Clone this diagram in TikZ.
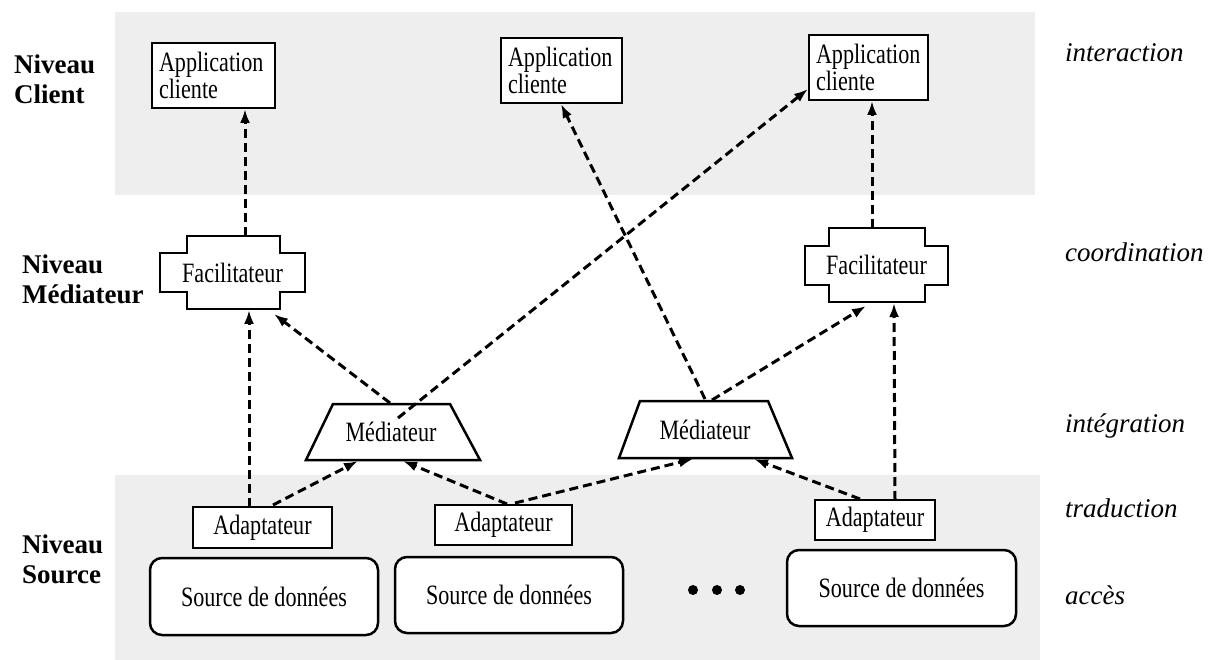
\documentclass[tikz,border=0pt]{standalone}
\usepackage{fontspec}
\setmainfont{Liberation Serif}
\newfontfamily\boxfont[FakeStretch=0.79]{Liberation Serif}
\usetikzlibrary{arrows.meta,calc}
\begin{document}
\begin{tikzpicture}[x=1pt,y=-1pt,
  band/.style={fill=gray!13, draw=none},
  frame/.style={draw=black, line width=2.5, fill=white},
  boxtext/.style={font=\boxfont\fontsize{28}{27}\selectfont},
  appbox/.style={frame, boxtext, rectangle, inner xsep=7, inner ysep=0, align=left},
  adbox/.style={frame, boxtext, rectangle, inner sep=0},
  srcbox/.style={frame, boxtext, rectangle, rounded corners=12, inner sep=0},
  label/.style={boxtext, inner sep=0},
  lvl/.style={anchor=north west, inner sep=0, align=left, font=\bfseries\fontsize{27}{30}\selectfont},
  task/.style={anchor=base west, inner sep=0, font=\itshape\fontsize{27}{30}\selectfont},
  flow/.style={line width=3, dash pattern=on 9 off 5, -{Latex[length=14,width=10]}}
]
\useasboundingbox (0,0) rectangle (1216,660);
\fill[white] (0,0) rectangle (1216,660);

% shaded bands for the client and source levels
\fill[band] (115,12) rectangle (1035,195);
\fill[band] (115,475) rectangle (1040,660);

% level names on the left
\node[lvl] (lvClient) at (14,55) {Niveau\\Client};
\node[lvl] (lvMed) at (22,255) {Niveau\\Médiateur};
\node[lvl] (lvSrc) at (22,535) {Niveau\\Source};

% functions on the right
\node[task] (tInter) at (1065,62) {interaction};
\node[task] (tCoord) at (1065,262) {coordination};
\node[task] (tInteg) at (1065,432) {intégration};
\node[task] (tTrad) at (1065,517) {traduction};
\node[task] (tAcc) at (1065,604) {accès};

% client applications
\node[appbox, text width=109, minimum height=65] (app1) at (213.5,75.5) {Application\\cliente};
\node[appbox, text width=107, minimum height=65] (app2) at (561.5,70.5) {Application\\cliente};
\node[appbox, text width=105, minimum height=65] (app3) at (868.5,67.5) {Application\\cliente};

% facilitators
\draw[frame] (160,253) -- (187,253) -- (187,236) -- (280,236) -- (280,253) -- (305,253)
  -- (305,292) -- (280,292) -- (280,309) -- (187,309) -- (187,292) -- (160,292) -- cycle;
\node[label] (fac1) at (232.5,272.5) {Facilitateur};
\draw[frame] (805,246) -- (829,246) -- (829,228) -- (925,228) -- (925,246) -- (948,246)
  -- (948,285) -- (925,285) -- (925,302) -- (829,302) -- (829,285) -- (805,285) -- cycle;
\node[label] (fac2) at (876.5,265) {Facilitateur};

% mediators
\draw[frame] (333,404) -- (450,404) -- (480,460) -- (306,460) -- cycle;
\node[label] (med1) at (391,432) {Médiateur};
\draw[frame] (640,401) -- (768,401) -- (792,458) -- (619,458) -- cycle;
\node[label] (med2) at (705,430) {Médiateur};

% adapters
\node[adbox, minimum width=139, minimum height=41] (ad1) at (262.5,527.5) {Adaptateur};
\node[adbox, minimum width=137, minimum height=40] (ad2) at (503.5,525) {Adaptateur};
\node[adbox, minimum width=120, minimum height=40] (ad3) at (875,520) {Adaptateur};

% data sources
\node[srcbox, minimum width=228, minimum height=77] (src1) at (264,596.5) {Source de données};
\node[srcbox, minimum width=228, minimum height=76] (src2) at (509,595) {Source de données};
\node[srcbox, minimum width=229, minimum height=76] (src3) at (901.5,588) {Source de données};

% ellipsis between sources
\fill (693,590) circle (5);
\fill (717,590) circle (5);
\fill (740,590) circle (5);

% connector end points
\coordinate (app1-in) at (245,109);
\coordinate (app2-in) at (561,104);
\coordinate (app3-in) at (872,101);
\coordinate (app3-side) at (808,89);
\coordinate (fac1-top) at (245,236);
\coordinate (fac1-in) at (249,310);
\coordinate (fac1-side) at (274,314);
\coordinate (fac2-top) at (872,228);
\coordinate (fac2-in) at (894,303);
\coordinate (fac2-side) at (866,306);
\coordinate (med1-top) at (390,403);
\coordinate (med1-mid) at (398,418);
\coordinate (med1-inL) at (358,461);
\coordinate (med1-inR) at (403,461);
\coordinate (med2-topL) at (705,399);
\coordinate (med2-topR) at (712,400);
\coordinate (med2-inL) at (693,459);
\coordinate (med2-inR) at (754,459);
\coordinate (ad1-up) at (249,507);
\coordinate (ad1-out) at (273,505);
\coordinate (ad2-outL) at (507,504);
\coordinate (ad2-outR) at (515,503);
\coordinate (ad3-outL) at (860,499);
\coordinate (ad3-outR) at (895,500);

% data flow
\draw[flow] (fac1-top) -- (app1-in);
\draw[flow] (ad1-up) -- (fac1-in);
\draw[flow] (med1-top) -- (fac1-side);
\draw[flow] (med1-mid) -- (app3-side);
\draw[flow] (ad1-out) -- (med1-inL);
\draw[flow] (ad2-outL) -- (med1-inR);
\draw[flow] (ad2-outR) -- (med2-inL);
\draw[flow] (med2-topL) -- (app2-in);
\draw[flow] (med2-topR) -- (fac2-side);
\draw[flow] (ad3-outL) -- (med2-inR);
\draw[flow] (ad3-outR) -- (fac2-in);
\draw[flow] (fac2-top) -- (app3-in);
\end{tikzpicture}
\end{document}
